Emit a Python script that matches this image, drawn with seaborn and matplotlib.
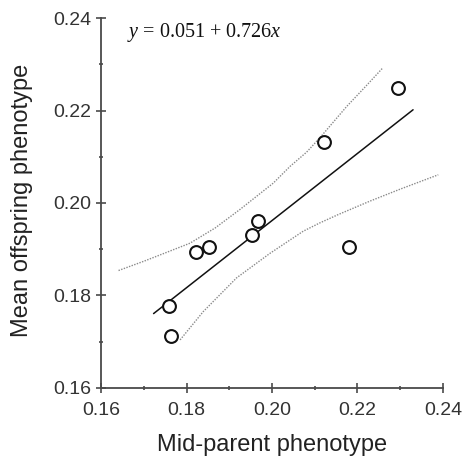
import numpy as np
import pandas as pd
import seaborn as sns
import matplotlib.pyplot as plt

#======data======
mid_parent = [0.1758, 0.1763, 0.1822, 0.1853, 0.1953, 0.1967, 0.2122, 0.2179, 0.2294]
offspring = [0.1777, 0.1712, 0.1893, 0.1904, 0.1930, 0.1962, 0.2132, 0.1905, 0.2249]

# regression y = a + b*x, drawn over this x range
intercept = 0.051
slope = 0.726
fit_x = [0.1723, 0.2330]

# dotted confidence curves
upper_x = [0.1641, 0.1700, 0.1750, 0.1808, 0.1867, 0.1925, 0.2003, 0.2042,
           0.2081, 0.2112, 0.2175, 0.2220, 0.2259]
upper_y = [0.1854, 0.1874, 0.1892, 0.1913, 0.1946, 0.1986, 0.2043, 0.2079,
           0.2110, 0.2141, 0.2209, 0.2253, 0.2292]
lower_x = [0.1785, 0.1839, 0.1917, 0.1995, 0.2073, 0.2112, 0.2155, 0.2229,
           0.2300, 0.2389]
lower_y = [0.1704, 0.1765, 0.1838, 0.1891, 0.1939, 0.1957, 0.1975, 0.2004,
           0.2030, 0.2061]

ticks = [0.16, 0.18, 0.20, 0.22, 0.24]
minor_ticks = [0.17, 0.19, 0.21, 0.23]

#======style======
sns.set_style('white')
plt.rcParams['font.family'] = ['Liberation Sans', 'DejaVu Sans']
plt.rcParams['mathtext.fontset'] = 'custom'
plt.rcParams['mathtext.rm'] = 'Liberation Serif'
plt.rcParams['mathtext.it'] = 'Liberation Serif:italic'

fig = plt.figure(figsize=(4.64, 4.57), dpi=100)
ax = fig.add_axes([0.2177, 0.151, 0.737, 0.8096])

df = pd.DataFrame({'x': mid_parent, 'y': offspring})
fit_df = pd.DataFrame({'x': fit_x, 'y': [intercept + slope * v for v in fit_x]})

sns.lineplot(x=upper_x, y=upper_y, ax=ax, color='#8a8a8a', lw=1.0,
             linestyle=(0, (1, 1)), estimator=None, sort=False)
sns.lineplot(x=lower_x, y=lower_y, ax=ax, color='#8a8a8a', lw=1.0,
             linestyle=(0, (1, 1)), estimator=None, sort=False)
sns.lineplot(data=fit_df, x='x', y='y', ax=ax, color='#111111', lw=1.1,
             estimator=None, sort=False)
sns.scatterplot(data=df, x='x', y='y', ax=ax, s=85, facecolor='white',
                edgecolor='#111111', linewidth=1.5, zorder=5)

ax.set_xlim(0.16, 0.24)
ax.set_ylim(0.16, 0.24)
ax.set_xticks(ticks)
ax.set_yticks(ticks)
ax.set_xticks(minor_ticks, minor=True)
ax.set_yticks(minor_ticks, minor=True)
ax.set_xticklabels([f'{t:.2f}' for t in ticks])
ax.set_yticklabels([f'{t:.2f}' for t in ticks])

for side in ['top', 'right']:
    ax.spines[side].set_visible(False)
for side in ['left', 'bottom']:
    ax.spines[side].set_color('#4a4a4a')
    ax.spines[side].set_linewidth(1.3)

ax.tick_params(which='both', bottom=True, left=True)
ax.tick_params(which='major', direction='inout', length=7.5, width=1.2,
               color='#4a4a4a', labelsize=14, labelcolor='#333333')
ax.tick_params(which='minor', direction='inout', length=3.5, width=1.2,
               color='#4a4a4a')
ax.tick_params(axis='x', which='major', pad=6)
ax.tick_params(axis='y', which='major', pad=3)

ax.set_xlabel('Mid-parent phenotype', fontsize=17, color='#222222')
ax.set_ylabel('Mean offspring phenotype', fontsize=17, color='#222222')
ax.xaxis.set_label_coords(0.5, -0.125)
ax.yaxis.set_label_coords(-0.2, 0.508)

ax.text(0.076, 0.96, r'$y$ = 0.051 + 0.726$x$', transform=ax.transAxes,
        fontsize=14.5, family='Liberation Serif', va='center', ha='left',
        color='#111111')

fig.savefig('out.png', dpi=100)
